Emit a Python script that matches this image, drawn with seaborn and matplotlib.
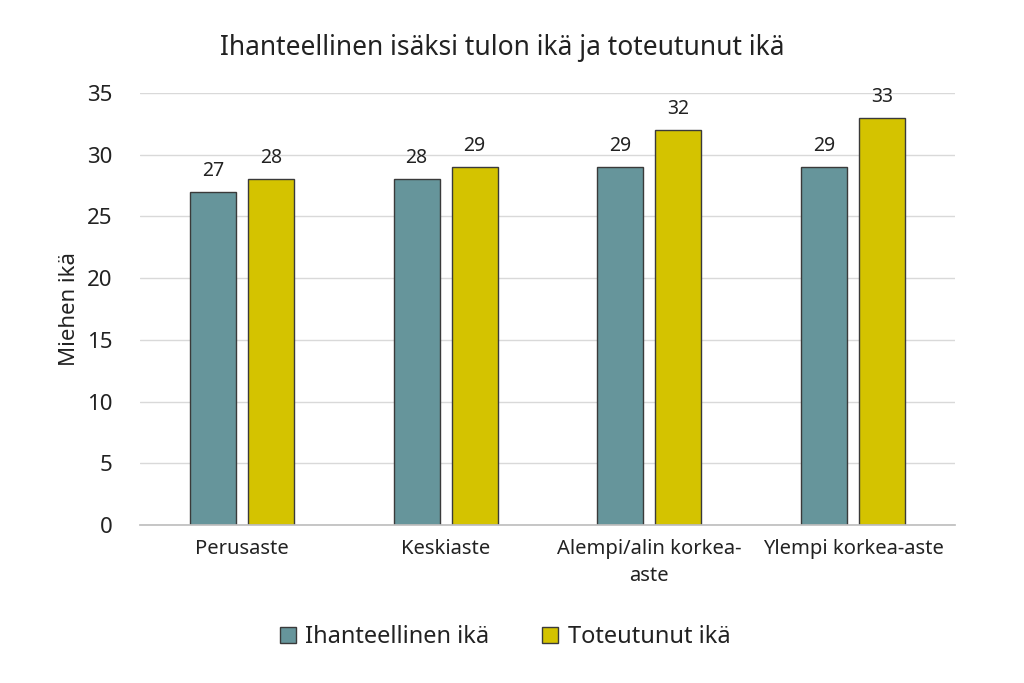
import matplotlib
matplotlib.use("Agg")
import matplotlib.pyplot as plt
import seaborn as sns
import pandas as pd

categories = ["Perusaste", "Keskiaste", "Alempi/alin korkea-\naste", "Ylempi korkea-aste"]
series_names = ["Ihanteellinen ikä", "Toteutunut ikä"]
ideal = [27, 28, 29, 29]
actual = [28, 29, 32, 33]
yticks = [0, 5, 10, 15, 20, 25, 30, 35]

colors = ["#66959B", "#D4C300"]

sns.set_theme(style="white")
plt.rcParams["font.family"] = ["Noto Sans", "DejaVu Sans"]

df = pd.DataFrame({
    "cat": categories * 2,
    "series": [series_names[0]] * 4 + [series_names[1]] * 4,
    "value": ideal + actual,
})

fig = plt.figure(figsize=(10.24, 6.83), dpi=100)
ax = fig.add_axes([0.1367, 0.2313, 0.7959, 0.6325])

sns.barplot(data=df, x="cat", y="value", hue="series", palette=colors,
            saturation=1, width=0.57, gap=0.207, edgecolor="#3a3a3a", linewidth=1.0,
            ax=ax, legend=True, errorbar=None)

for cont in ax.containers:
    ax.bar_label(cont, fmt="%d", padding=8, fontsize=14, color="#222222")

ax.set_ylim(0, 35)
ax.set_xlim(-0.5, 3.5)
ax.set_yticks(yticks)
ax.set_yticklabels([str(t) for t in yticks], fontsize=16, color="#222222")
ax.tick_params(axis="x", labelsize=14.5, colors="#222222", length=0, pad=10)
ax.tick_params(axis="y", length=0, pad=20)
for lbl in ax.get_xticklabels():
    lbl.set_linespacing(1.5)
ax.yaxis.grid(True, color="#D9D9D9", linewidth=1)
ax.set_axisbelow(True)
for s in ["top", "right", "left"]:
    ax.spines[s].set_visible(False)
ax.spines["bottom"].set_color("#BFBFBF")
ax.set_xlabel("")
ax.set_ylabel("Miehen ikä", fontsize=16, color="#222222", labelpad=5)

handles, labels = ax.get_legend_handles_labels()
ax.get_legend().remove()
fig.legend(handles, labels, loc="center", bbox_to_anchor=(0.493, 0.067), ncol=2,
           frameon=False, fontsize=17, handlelength=0.7, handleheight=0.7,
           columnspacing=2.2, handletextpad=0.4, labelcolor="#222222")

fig.text(0.49, 0.93, "Ihanteellinen isäksi tulon ikä ja toteutunut ikä",
         ha="center", va="center", fontsize=19, color="#222222")

fig.savefig("out.png", dpi=100, facecolor="white")
